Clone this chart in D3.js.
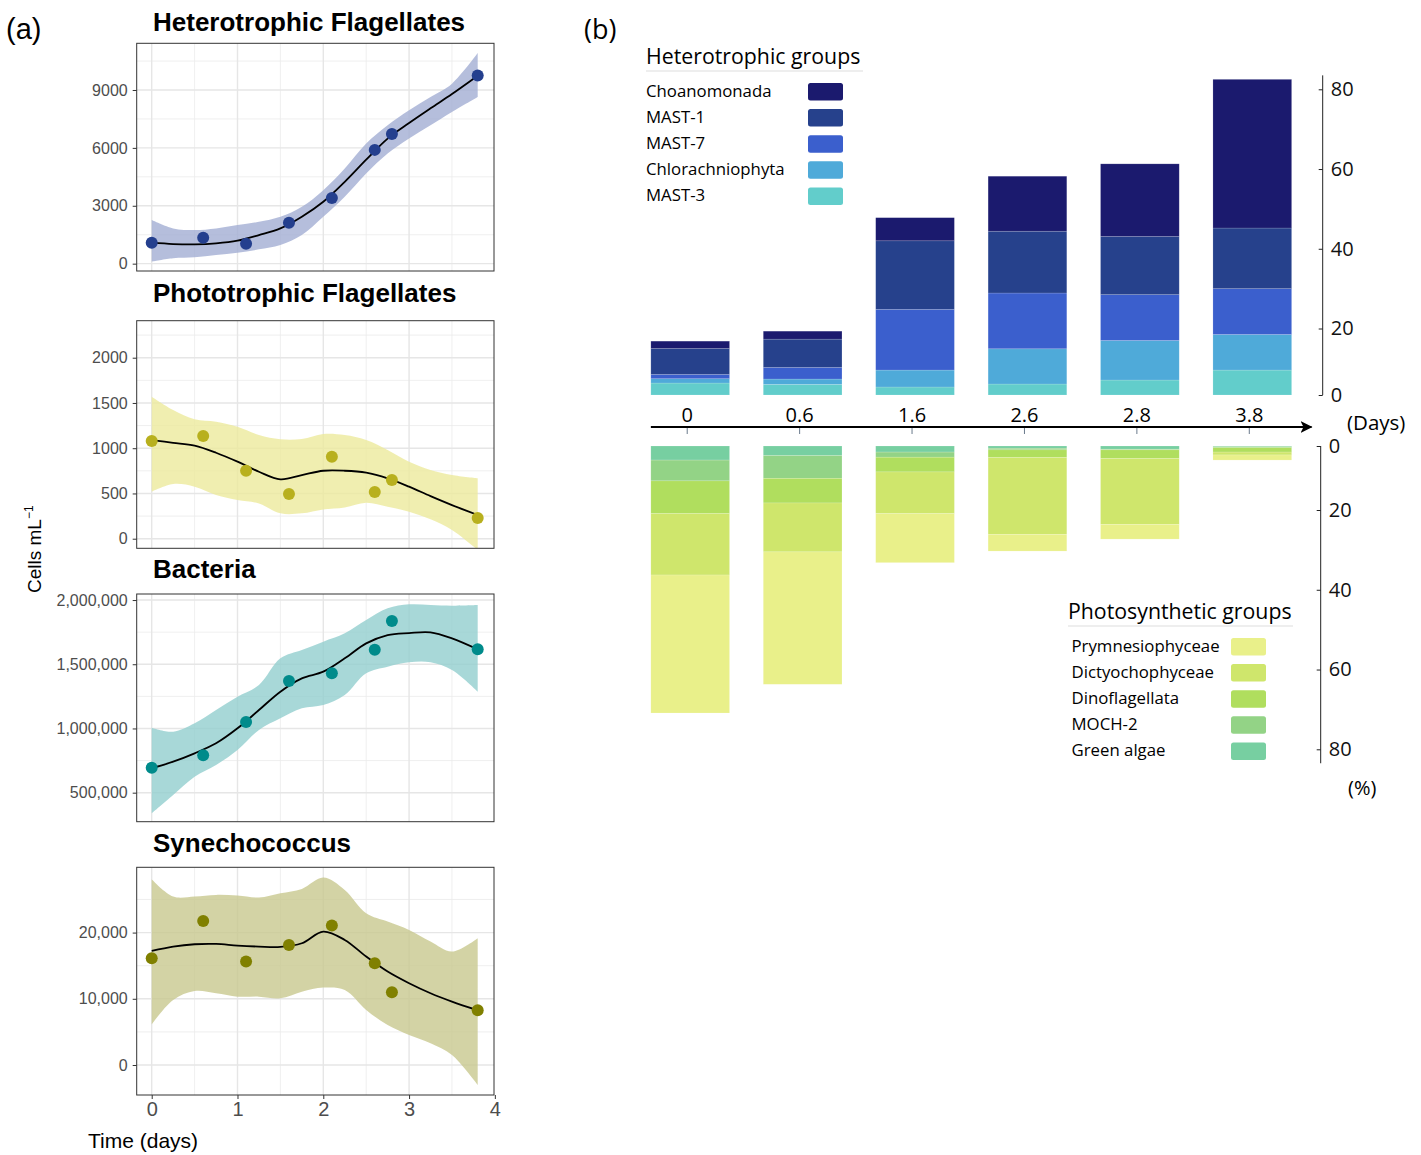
<!DOCTYPE html>
<html>
<head>
<meta charset="utf-8">
<script src="https://cdn.jsdelivr.net/npm/d3@7"></script>
<style>
body { margin: 0; background: #fff; }
</style>
</head>
<body>
<div id="chart"></div>
<script>
// ---------- panel (a) data ----------
var sampleDays = [0, 0.6, 1.1, 1.6, 2.1, 2.6, 2.8, 3.8];
var hfCells   = [1086, 1345, 1034, 2121, 3400, 5897, 6725, 9746];
var pfCells   = [1080, 1135, 751, 494, 906, 516, 648, 228];
var bactCells = [695000, 791000, 1050000, 1369000, 1429000, 1613000, 1836000, 1616000];
var synCells  = [16121, 21763, 15617, 18136, 21058, 15365, 10982, 8262];

// smoother
var fitDays = [0, 0.25, 0.5, 0.75, 1, 1.25, 1.5, 1.75, 2, 2.25, 2.5, 2.75, 3, 3.25, 3.5, 3.8];
var hfFit  = [1086, 1017, 1000, 1052, 1190, 1483, 1828, 2431, 3207, 4241, 5388, 6483, 7293, 8052, 8793, 9741];
var hfLow  = [103, 276, 328, 448, 569, 741, 966, 1483, 2431, 3466, 4672, 5707, 6483, 7172, 7862, 8638];
var hfHigh = [2259, 1828, 1741, 1828, 2000, 2172, 2431, 2948, 3810, 4931, 6224, 7172, 7948, 8638, 9328, 10914];

var pfFit  = [1090, 1060, 1028, 950, 851, 740, 656, 703, 751, 751, 729, 667, 575, 471, 372, 262];
var pfLow  = [519, 604, 575, 483, 427, 390, 280, 280, 324, 346, 398, 354, 298, 214, 96, -125];
var pfHigh = [1569, 1422, 1319, 1293, 1238, 1145, 1098, 1101, 1157, 1145, 1090, 980, 851, 759, 703, 667];

var bactFit  = [690000, 741600, 806500, 884300, 1001000, 1143700, 1286500, 1390200, 1442100, 1545900, 1662700, 1727600, 1743100, 1748300, 1701600, 1616000];
var bactLow  = [339400, 482100, 624800, 715600, 832400, 988100, 1078900, 1156700, 1182700, 1260500, 1429200, 1481100, 1514800, 1514800, 1455100, 1286500];
var bactHigh = [1006200, 975000, 1040000, 1143700, 1247500, 1338400, 1545900, 1610800, 1675700, 1740500, 1844300, 1935100, 1966300, 1961100, 1955900, 1961100];

var synFit  = [17229, 17884, 18237, 18287, 18035, 17884, 17834, 18388, 20151, 18892, 16373, 14106, 12343, 10831, 9572, 8262];
var synLow  = [6146, 9824, 11184, 10831, 10327, 10327, 10076, 11083, 11688, 11335, 8312, 6045, 4534, 3275, 1511, -3023];
var synHigh = [28060, 25441, 25441, 25693, 25592, 25290, 25945, 26599, 28312, 26448, 22922, 21662, 20403, 18640, 17128, 19144];

var hfTicks   = [0, 3000, 6000, 9000];
var pfTicks   = [0, 500, 1000, 1500, 2000];
var bactTicks = [500000, 1000000, 1500000, 2000000];
var synTicks  = [0, 10000, 20000];
var timeTicks = [0, 1, 2, 3, 4];

// ---------- panel (b) data ----------
var dayLabels = ["0", "0.6", "1.6", "2.6", "2.8", "3.8"];
var heteroKeys = ["MAST-3", "Chlorachniophyta", "MAST-7", "MAST-1", "Choanomonada"];
var mast3  = [3.6, 3.2, 2.4, 3.3, 4.5, 7.5];
var chlor  = [1.3, 1.6, 5.1, 10.6, 11.9, 10.7];
var mast7  = [1.3, 3.5, 17.3, 15.0, 12.1, 11.8];
var mast1  = [7.8, 8.5, 17.2, 15.5, 14.6, 15.2];
var choano = [2.2, 2.4, 5.8, 13.8, 18.2, 37.3];

var photoKeys = ["Green algae", "MOCH-2", "Dinoflagellata", "Dictyochophyceae", "Prymnesiophyceae"];
var green = [4.4, 3.0, 1.9, 0.7, 1.0, 0.2];
var moch  = [6.5, 7.1, 1.6, 0.5, 0.2, 0.3];
var dino  = [10.0, 7.7, 4.6, 2.4, 2.7, 1.4];
var dicty = [15.4, 12.7, 12.8, 22.5, 19.7, 0.9];
var prym  = [34.6, 33.2, 12.3, 4.2, 3.7, 1.6];
var pctTicks = [0, 20, 40, 60, 80];

var heteroColor = {"Choanomonada": "#1b1a6e", "MAST-1": "#26418c", "MAST-7": "#3b5fcd",
                   "Chlorachniophyta": "#4faad9", "MAST-3": "#62cdcb"};
var photoColor = {"Prymnesiophyceae": "#e9f08a", "Dictyochophyceae": "#cfe66c", "Dinoflagellata": "#b0de5e",
                  "MOCH-2": "#93d386", "Green algae": "#77cfa1"};

var svg = d3.select("#chart").append("svg")
    .attr("width", 1421)
    .attr("height", 1155);

var fontA = "'Liberation Sans', Arial, sans-serif";
var fontB = "'Open Sans', 'Noto Sans', sans-serif";

// ================= panel (a) =================
var left = 136.7, right = 494;
var xScale = d3.scaleLinear().domain([-0.175, 3.99]).range([left, right]);

var panels = [
    {title: "Heterotrophic Flagellates", pts: hfCells, fit: hfFit, lo: hfLow, hi: hfHigh, ticks: hfTicks,
     minor: [1500, 4500, 7500, 10500], domain: [-380, 11420], top: 43.3, bottom: 271, titleY: 30.7,
     fmt: d3.format("d"), dot: "#243f8e", band: "#a2aed3"},
    {title: "Phototrophic Flagellates", pts: pfCells, fit: pfFit, lo: pfLow, hi: pfHigh, ticks: pfTicks,
     minor: [250, 750, 1250, 1750, 2250], domain: [-106, 2409], top: 320.7, bottom: 548.3, titleY: 301.7,
     fmt: d3.format("d"), dot: "#b8b01e", band: "#ecea9c"},
    {title: "Bacteria", pts: bactCells, fit: bactFit, lo: bactLow, hi: bactHigh, ticks: bactTicks,
     minor: [750000, 1250000, 1750000], domain: [274000, 2047000], top: 594, bottom: 821.7, titleY: 578.3,
     fmt: d3.format(","), dot: "#008b8b", band: "#92cece"},
    {title: "Synechococcus", pts: synCells, fit: synFit, lo: synLow, hi: synHigh, ticks: synTicks,
     minor: [5000, 15000, 25000], domain: [-4530, 29860], top: 867.3, bottom: 1095, titleY: 851.7,
     fmt: d3.format(","), dot: "#808000", band: "#c8c88f"}
];

panels.forEach(function (p, i) {
    var yScale = d3.scaleLinear().domain(p.domain).range([p.bottom, p.top]);
    var g = svg.append("g");

    g.append("clipPath").attr("id", "clip" + i)
        .append("rect")
        .attr("x", left).attr("y", p.top)
        .attr("width", right - left).attr("height", p.bottom - p.top);

    var inner = g.append("g").attr("clip-path", "url(#clip" + i + ")");

    // grid
    inner.selectAll(".hminor").data(p.minor).enter().append("line")
        .attr("x1", left).attr("x2", right)
        .attr("y1", d => yScale(d)).attr("y2", d => yScale(d))
        .attr("stroke", "#ebebeb").attr("stroke-width", 0.8);
    inner.selectAll(".vminor").data([0.5, 1.5, 2.5, 3.5]).enter().append("line")
        .attr("y1", p.top).attr("y2", p.bottom)
        .attr("x1", d => xScale(d)).attr("x2", d => xScale(d))
        .attr("stroke", "#ebebeb").attr("stroke-width", 0.8);
    inner.selectAll(".hmajor").data(p.ticks).enter().append("line")
        .attr("x1", left).attr("x2", right)
        .attr("y1", d => yScale(d)).attr("y2", d => yScale(d))
        .attr("stroke", "#e6e6e6").attr("stroke-width", 1.4);
    inner.selectAll(".vmajor").data(timeTicks).enter().append("line")
        .attr("y1", p.top).attr("y2", p.bottom)
        .attr("x1", d => xScale(d)).attr("x2", d => xScale(d))
        .attr("stroke", "#e6e6e6").attr("stroke-width", 1.4);

    var rows = fitDays.map(function (d, k) {
        return {day: d, fit: p.fit[k], lo: p.lo[k], hi: p.hi[k]};
    });

    var band = d3.area()
        .x(d => xScale(d.day))
        .y0(d => yScale(d.lo))
        .y1(d => yScale(d.hi))
        .curve(d3.curveCatmullRom.alpha(0.5));
    inner.append("path").datum(rows)
        .attr("d", band)
        .attr("fill", p.band)
        .attr("fill-opacity", 0.8);

    var line = d3.line()
        .x(d => xScale(d.day))
        .y(d => yScale(d.fit))
        .curve(d3.curveCatmullRom.alpha(0.5));
    inner.append("path").datum(rows)
        .attr("d", line)
        .attr("fill", "none")
        .attr("stroke", "black")
        .attr("stroke-width", 1.8);

    g.selectAll("circle").data(p.pts).enter().append("circle")
        .attr("cx", (d, k) => xScale(sampleDays[k]))
        .attr("cy", d => yScale(d))
        .attr("r", 6)
        .attr("fill", p.dot);

    g.append("rect")
        .attr("x", left).attr("y", p.top)
        .attr("width", right - left).attr("height", p.bottom - p.top)
        .attr("fill", "none").attr("stroke", "#333").attr("stroke-width", 1);

    var yAxis = d3.axisLeft(yScale).tickValues(p.ticks).tickFormat(p.fmt)
        .tickSize(4).tickPadding(5);
    var ax = g.append("g").attr("transform", "translate(" + left + ",0)").call(yAxis);
    ax.select(".domain").remove();
    ax.selectAll("line").attr("stroke", "#333");
    ax.selectAll("text").attr("fill", "#4d4d4d")
        .style("font-family", fontA).style("font-size", "16px");

    g.append("text")
        .attr("x", 153).attr("y", p.titleY)
        .style("font-family", fontA).style("font-size", "26px").style("font-weight", "bold")
        .text(p.title);

    if (i === panels.length - 1) {
        var xAxis = d3.axisBottom(xScale).tickValues(timeTicks).tickFormat(d3.format("d"))
            .tickSize(4).tickPadding(3);
        var bx = g.append("g").attr("transform", "translate(0," + p.bottom + ")").call(xAxis);
        bx.select(".domain").remove();
        bx.selectAll("line").attr("stroke", "#333");
        bx.selectAll("text").attr("fill", "#4d4d4d")
            .style("font-family", fontA).style("font-size", "20px");
    }
});

svg.append("text")
    .attr("x", 88).attr("y", 1148)
    .style("font-family", fontA).style("font-size", "21px")
    .text("Time (days)");

svg.append("text")
    .attr("transform", "translate(41,593) rotate(-90)")
    .style("font-family", fontA).style("font-size", "19px")
    .text("Cells mL")
    .append("tspan").attr("dy", -8).style("font-size", "12px").text("\u22121");

svg.append("text").attr("x", 6).attr("y", 39)
    .style("font-family", fontA).style("font-size", "29px").text("(a)");

// ================= panel (b) =================
svg.append("text").attr("x", 584).attr("y", 39)
    .style("font-family", fontB).style("font-size", "27px").text("(b)");

var xb = d3.scaleBand().domain(dayLabels)
    .range([634, 1308.5])
    .paddingInner(0.3)
    .paddingOuter(0.15);
var yTop = d3.scaleLinear().domain([0, 20, 80]).range([395, 328.5, 89.3]);
var yBot = d3.scaleLinear().domain([0, 20, 80]).range([446, 510, 749.3]);

var heteroRows = dayLabels.map(function (d, k) {
    return {day: d, "MAST-3": mast3[k], "Chlorachniophyta": chlor[k], "MAST-7": mast7[k],
            "MAST-1": mast1[k], "Choanomonada": choano[k]};
});
var photoRows = dayLabels.map(function (d, k) {
    return {day: d, "Green algae": green[k], "MOCH-2": moch[k], "Dinoflagellata": dino[k],
            "Dictyochophyceae": dicty[k], "Prymnesiophyceae": prym[k]};
});

var heteroStack = d3.stack().keys(heteroKeys)(heteroRows);
var photoStack = d3.stack().keys(photoKeys)(photoRows);

svg.append("g").selectAll("g").data(heteroStack).enter().append("g")
    .attr("fill", d => heteroColor[d.key])
    .selectAll("rect").data(d => d).enter().append("rect")
    .attr("x", d => xb(d.data.day))
    .attr("width", xb.bandwidth())
    .attr("y", d => yTop(d[1]))
    .attr("height", d => yTop(d[0]) - yTop(d[1]))
    .attr("stroke", "#ffffff").attr("stroke-opacity", 0.25).attr("stroke-width", 0.6);

svg.append("g").selectAll("g").data(photoStack).enter().append("g")
    .attr("fill", d => photoColor[d.key])
    .selectAll("rect").data(d => d).enter().append("rect")
    .attr("x", d => xb(d.data.day))
    .attr("width", xb.bandwidth())
    .attr("y", d => yBot(d[0]))
    .attr("height", d => yBot(d[1]) - yBot(d[0]))
    .attr("stroke", "#ffffff").attr("stroke-opacity", 0.25).attr("stroke-width", 0.6);

// right-hand axes: ticks point left, labels on the right
function pctAxis(scale, xPos) {
    var a = svg.append("g").attr("transform", "translate(" + xPos + ",0)")
        .call(d3.axisRight(scale).tickValues(pctTicks).tickSize(-4).tickSizeOuter(0).tickPadding(8));
    a.select(".domain").remove();
    a.append("line")
        .attr("x1", 0).attr("x2", 0)
        .attr("y1", scale(0)).attr("y2", scale(83.5))
        .attr("stroke", "#222").attr("stroke-width", 1);
    a.selectAll(".tick line").attr("stroke", "#222");
    a.selectAll("text").attr("fill", "#111")
        .style("font-family", fontB).style("font-size", "20px");
}
pctAxis(yTop, 1322.7);
pctAxis(yBot, 1320.7);

// time arrow
svg.append("defs").append("marker")
    .attr("id", "arrowHead")
    .attr("viewBox", "0 0 12 12")
    .attr("refX", 11).attr("refY", 6)
    .attr("markerWidth", 12).attr("markerHeight", 12)
    .attr("markerUnits", "userSpaceOnUse")
    .attr("orient", "auto")
    .append("path")
    .attr("d", "M0,0 L12,6 L0,12 L3,6 Z")
    .attr("fill", "#000");

var arrowY = 427;
svg.append("line")
    .attr("x1", xb(dayLabels[0])).attr("x2", xb.range()[1] + 3)
    .attr("y1", arrowY).attr("y2", arrowY)
    .attr("stroke", "#000").attr("stroke-width", 2.2)
    .attr("marker-end", "url(#arrowHead)");

svg.selectAll(".dayTick").data(dayLabels).enter().append("line")
    .attr("x1", d => xb(d) + xb.bandwidth() / 2 - 3)
    .attr("x2", d => xb(d) + xb.bandwidth() / 2 - 3)
    .attr("y1", arrowY + 1).attr("y2", arrowY + 7)
    .attr("stroke", "#6a7a8c").attr("stroke-width", 1);

svg.selectAll(".dayLabel").data(dayLabels).enter().append("text")
    .attr("x", d => xb(d) + xb.bandwidth() / 2 - 3)
    .attr("y", arrowY - 5)
    .attr("text-anchor", "middle")
    .style("font-family", fontB).style("font-size", "20px")
    .text(d => d);

svg.append("text").attr("x", 1347).attr("y", 430)
    .style("font-family", fontB).style("font-size", "20.5px").text("(Days)");
svg.append("text").attr("x", 1348).attr("y", 795)
    .style("font-family", fontB).style("font-size", "20px").text("(%)");

// legends
function legend(title, names, colors, lx, titleY, lineEnd, textX, swX) {
    var g = svg.append("g");
    g.append("text").attr("x", lx).attr("y", titleY)
        .style("font-family", fontB).style("font-size", "21.3px").text(title);
    g.append("line")
        .attr("x1", lx).attr("x2", lineEnd)
        .attr("y1", titleY + 7).attr("y2", titleY + 7)
        .attr("stroke", "#dddddd").attr("stroke-width", 1);
    names.forEach(function (n, k) {
        var yy = titleY + 33 + k * 26.1;
        g.append("text").attr("x", textX).attr("y", yy)
            .style("font-family", fontB).style("font-size", "16.8px").text(n);
        g.append("rect")
            .attr("x", swX).attr("y", yy - 14)
            .attr("width", 35).attr("height", 17.5)
            .attr("rx", 2.5)
            .attr("fill", colors[n]);
    });
}
legend("Heterotrophic groups",
    ["Choanomonada", "MAST-1", "MAST-7", "Chlorachniophyta", "MAST-3"],
    heteroColor, 646, 64, 863, 646, 808);
legend("Photosynthetic groups",
    ["Prymnesiophyceae", "Dictyochophyceae", "Dinoflagellata", "MOCH-2", "Green algae"],
    photoColor, 1068, 619, 1293, 1071.5, 1231);
</script>
</body>
</html>
